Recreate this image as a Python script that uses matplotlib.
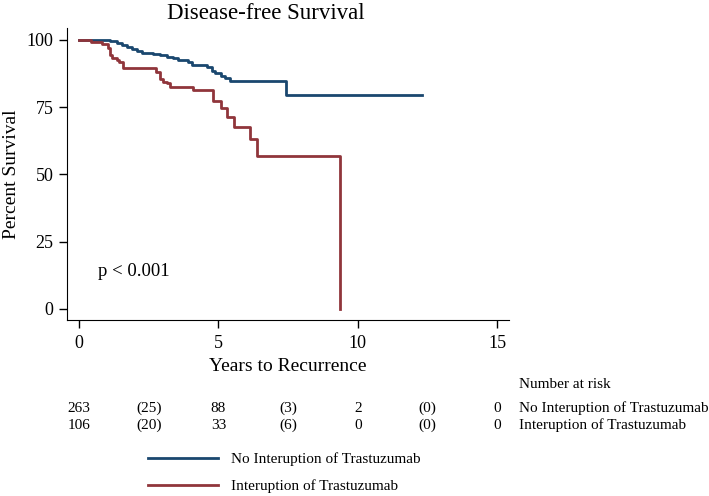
import matplotlib
matplotlib.use("Agg")
import matplotlib.pyplot as plt
import matplotlib.transforms as mtransforms

plt.rcParams['font.family'] = ['Liberation Serif', 'DejaVu Serif']

# Kaplan-Meier step data
years_no_int = [0, 1.11, 1.37, 1.53, 1.71, 1.89, 2.09, 2.25, 2.66, 2.90, 3.14,
                3.38, 3.56, 3.92, 4.04, 4.58, 4.76, 4.87, 5.11, 5.23, 5.41, 7.41, 12.3]
surv_no_int = [100, 99.6, 98.8, 98.1, 97.3, 96.5, 95.8, 95.1, 94.8, 94.3, 93.8,
               93.1, 92.6, 91.7, 90.7, 90.1, 88.6, 87.6, 86.7, 86.0, 84.8, 79.5, 79.5]

years_int = [0, 0.45, 0.81, 1.05, 1.11, 1.17, 1.35, 1.45, 1.59, 2.78, 2.90, 3.02,
             3.14, 3.26, 4.10, 4.81, 5.11, 5.30, 5.56, 6.13, 6.40, 9.35]
surv_int = [100, 99.1, 98.5, 96.9, 94.4, 93.2, 92.6, 91.6, 89.7, 88.2, 85.4, 84.5,
            83.9, 82.6, 81.2, 77.3, 74.5, 71.3, 67.8, 63.2, 56.9, 0]

risk_times = [0, 2.5, 5, 7.5, 10, 12.5, 15]
risk_no_int = ['263', '(25)', '88', '(3)', '2', '(0)', '0']
risk_int = ['106', '(20)', '33', '(6)', '0', '(0)', '0']

labels = ['No Interuption of Trastuzumab', 'Interuption of Trastuzumab']
colors = ['#1a476f', '#90353b']

fig = plt.figure(figsize=(7.09, 4.96), dpi=100)
ax = fig.add_axes([0.094, 0.355, 0.624, 0.589])

l1, = ax.plot(years_no_int, surv_no_int, drawstyle='steps-post', color=colors[0], lw=2)
l2, = ax.plot(years_int, surv_int, drawstyle='steps-post', color=colors[1], lw=2)

ax.set_xlim(-0.44, 15.42)
ax.set_ylim(-4.1, 104.5)
ax.set_xticks([0, 5, 10, 15])
ax.set_yticks([0, 25, 50, 75, 100])
ax.spines['top'].set_visible(False)
ax.spines['right'].set_visible(False)
ax.tick_params(direction='out', length=6, width=1, labelsize=13)
ax.tick_params(axis='x', length=6, pad=5)
ax.tick_params(axis='y', length=5.5, pad=4)
ax.set_xlabel('Years to Recurrence', fontsize=14)
ax.set_ylabel('Percent Survival', fontsize=14)
ax.xaxis.set_label_coords(0.5, -0.13)
ax.yaxis.set_label_coords(-0.106, 0.5)
fig.text(0.375, 0.972, 'Disease-free Survival', fontsize=16.5, ha='center', va='center')
ax.text(0.68, 14, 'p < 0.001', fontsize=13.5, ha='left', va='center')

# number at risk table
trans = mtransforms.blended_transform_factory(ax.transData, fig.transFigure)
fig.text(0.732, 0.224, 'Number at risk', fontsize=11, ha='left', va='center')
for t, a, b in zip(risk_times, risk_no_int, risk_int):
    ax.text(t, 0.177, a, transform=trans, fontsize=11, ha='center', va='center', clip_on=False)
    ax.text(t, 0.143, b, transform=trans, fontsize=11, ha='center', va='center', clip_on=False)
fig.text(0.732, 0.177, labels[0], fontsize=11, ha='left', va='center')
fig.text(0.732, 0.143, labels[1], fontsize=11, ha='left', va='center')

fig.legend([l1, l2], labels, loc='upper left', bbox_to_anchor=(0.209, 0.088),
           frameon=False, fontsize=11, handlelength=4.6, handletextpad=0.8,
           labelspacing=0.85, borderaxespad=0, borderpad=0)

fig.savefig('out.png', dpi=100)
